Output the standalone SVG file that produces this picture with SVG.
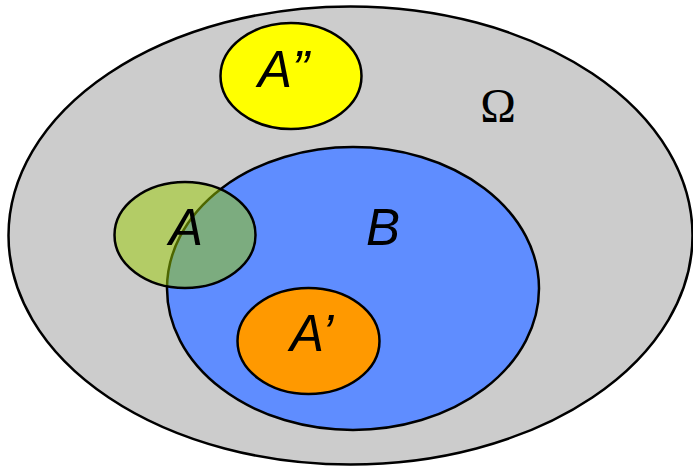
<svg xmlns="http://www.w3.org/2000/svg" width="693" height="467" viewBox="0 0 693 467">
<style>
.e{stroke:#000;stroke-width:2.5}
.t{font-family:"Liberation Sans",Arial,sans-serif;font-style:italic;font-size:51px;fill:#000}
</style>
<rect width="693" height="467" fill="#fff"/>
<g id="omega">
<ellipse class="e" cx="350.5" cy="235.5" rx="342" ry="229" fill="#cccccc"/>
<text x="498" y="122" font-family="'Liberation Serif','Times New Roman',serif" font-size="48" text-anchor="middle">Ω</text>
</g>
<g id="B">
<ellipse class="e" cx="353" cy="288.5" rx="186" ry="141.5" fill="#5f8dff"/>
<text class="t" x="366" y="245">B</text>
</g>
<g id="A2">
<ellipse class="e" cx="291" cy="76" rx="70.5" ry="53" fill="#ffff00"/>
<text class="t" x="258" y="87">A”</text>
</g>
<g id="A">
<ellipse cx="185" cy="235" rx="70.5" ry="53" fill="#99cc00" fill-opacity="0.5"/>
<ellipse cx="185" cy="235" rx="70.5" ry="53" fill="none" stroke="#000" stroke-width="2.5"/>
<text class="t" x="169" y="245">A</text>
</g>
<g id="A1">
<ellipse class="e" cx="308.5" cy="341" rx="71" ry="53" fill="#ff9900"/>
<text class="t" x="290" y="351">A’</text>
</g>
<g id="connectors"></g>
</svg>
